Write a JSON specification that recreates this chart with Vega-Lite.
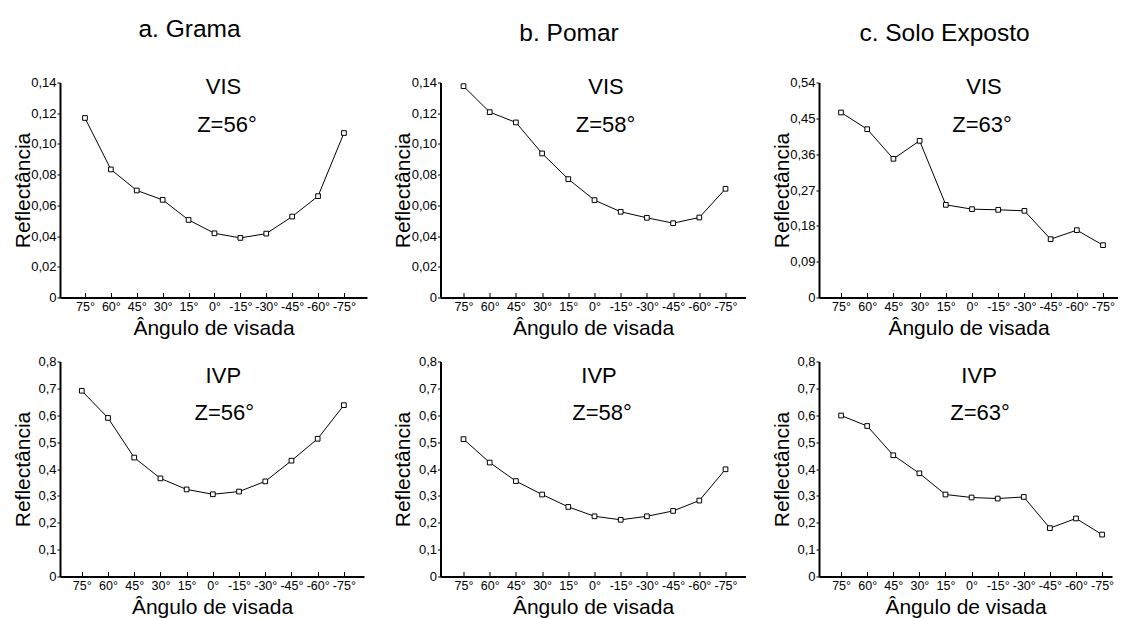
{
  "$schema": "https://vega.github.io/schema/vega-lite/v6.json",
  "background": "white",
  "padding": {"left": 12, "top": 16.5, "right": 0, "bottom": 0},
  "config": {
    "view": {"stroke": null},
    "font": "Liberation Sans",
    "axis": {"grid": false, "domainColor": "black", "domainWidth": 2, "tickColor": "black", "tickWidth": 1, "labelColor": "black", "titleColor": "black", "labelFont": "Liberation Sans", "titleFont": "Liberation Sans", "titleFontWeight": "normal"},
    "axisX": {"tickSize": -5, "labelFontSize": 12.5, "labelAngle": 0, "labelPadding": 8, "titleFontSize": 21, "titlePadding": 4},
    "axisY": {"tickSize": 3, "labelFontSize": 13, "labelPadding": 1, "titleFontSize": 21, "titlePadding": -3, "minExtent": 30},
    "title": {"font": "Liberation Sans", "fontWeight": "normal", "fontSize": 24.5, "color": "black"},
    "concat": {"spacing": 25.5}
  },
  "data": {"values": [
    {"cover": "Grama", "band": "VIS", "angle": "75°", "refl": 0.1169},
    {"cover": "Grama", "band": "VIS", "angle": "60°", "refl": 0.0834},
    {"cover": "Grama", "band": "VIS", "angle": "45°", "refl": 0.0697},
    {"cover": "Grama", "band": "VIS", "angle": "30°", "refl": 0.0636},
    {"cover": "Grama", "band": "VIS", "angle": "15°", "refl": 0.0505},
    {"cover": "Grama", "band": "VIS", "angle": "0°", "refl": 0.0418},
    {"cover": "Grama", "band": "VIS", "angle": "-15°", "refl": 0.0388},
    {"cover": "Grama", "band": "VIS", "angle": "-30°", "refl": 0.0416},
    {"cover": "Grama", "band": "VIS", "angle": "-45°", "refl": 0.0527},
    {"cover": "Grama", "band": "VIS", "angle": "-60°", "refl": 0.066},
    {"cover": "Grama", "band": "VIS", "angle": "-75°", "refl": 0.1071},
    {"cover": "Pomar", "band": "VIS", "angle": "75°", "refl": 0.1376},
    {"cover": "Pomar", "band": "VIS", "angle": "60°", "refl": 0.1207},
    {"cover": "Pomar", "band": "VIS", "angle": "45°", "refl": 0.114},
    {"cover": "Pomar", "band": "VIS", "angle": "30°", "refl": 0.0938},
    {"cover": "Pomar", "band": "VIS", "angle": "15°", "refl": 0.0771},
    {"cover": "Pomar", "band": "VIS", "angle": "0°", "refl": 0.0634},
    {"cover": "Pomar", "band": "VIS", "angle": "-15°", "refl": 0.0558},
    {"cover": "Pomar", "band": "VIS", "angle": "-30°", "refl": 0.0519},
    {"cover": "Pomar", "band": "VIS", "angle": "-45°", "refl": 0.0484},
    {"cover": "Pomar", "band": "VIS", "angle": "-60°", "refl": 0.0521},
    {"cover": "Pomar", "band": "VIS", "angle": "-75°", "refl": 0.0708},
    {"cover": "Solo", "band": "VIS", "angle": "75°", "refl": 0.4647},
    {"cover": "Solo", "band": "VIS", "angle": "60°", "refl": 0.4228},
    {"cover": "Solo", "band": "VIS", "angle": "45°", "refl": 0.3483},
    {"cover": "Solo", "band": "VIS", "angle": "30°", "refl": 0.3935},
    {"cover": "Solo", "band": "VIS", "angle": "15°", "refl": 0.2327},
    {"cover": "Solo", "band": "VIS", "angle": "0°", "refl": 0.2219},
    {"cover": "Solo", "band": "VIS", "angle": "-15°", "refl": 0.2202},
    {"cover": "Solo", "band": "VIS", "angle": "-30°", "refl": 0.2177},
    {"cover": "Solo", "band": "VIS", "angle": "-45°", "refl": 0.1465},
    {"cover": "Solo", "band": "VIS", "angle": "-60°", "refl": 0.1691},
    {"cover": "Solo", "band": "VIS", "angle": "-75°", "refl": 0.1314},
    {"cover": "Grama", "band": "IVP", "angle": "75°", "refl": 0.691},
    {"cover": "Grama", "band": "IVP", "angle": "60°", "refl": 0.59},
    {"cover": "Grama", "band": "IVP", "angle": "45°", "refl": 0.4425},
    {"cover": "Grama", "band": "IVP", "angle": "30°", "refl": 0.365},
    {"cover": "Grama", "band": "IVP", "angle": "15°", "refl": 0.324},
    {"cover": "Grama", "band": "IVP", "angle": "0°", "refl": 0.306},
    {"cover": "Grama", "band": "IVP", "angle": "-15°", "refl": 0.316},
    {"cover": "Grama", "band": "IVP", "angle": "-30°", "refl": 0.354},
    {"cover": "Grama", "band": "IVP", "angle": "-45°", "refl": 0.431},
    {"cover": "Grama", "band": "IVP", "angle": "-60°", "refl": 0.5125},
    {"cover": "Grama", "band": "IVP", "angle": "-75°", "refl": 0.6375},
    {"cover": "Pomar", "band": "IVP", "angle": "75°", "refl": 0.511},
    {"cover": "Pomar", "band": "IVP", "angle": "60°", "refl": 0.424},
    {"cover": "Pomar", "band": "IVP", "angle": "45°", "refl": 0.355},
    {"cover": "Pomar", "band": "IVP", "angle": "30°", "refl": 0.305},
    {"cover": "Pomar", "band": "IVP", "angle": "15°", "refl": 0.259},
    {"cover": "Pomar", "band": "IVP", "angle": "0°", "refl": 0.224},
    {"cover": "Pomar", "band": "IVP", "angle": "-15°", "refl": 0.211},
    {"cover": "Pomar", "band": "IVP", "angle": "-30°", "refl": 0.224},
    {"cover": "Pomar", "band": "IVP", "angle": "-45°", "refl": 0.244},
    {"cover": "Pomar", "band": "IVP", "angle": "-60°", "refl": 0.2825},
    {"cover": "Pomar", "band": "IVP", "angle": "-75°", "refl": 0.399},
    {"cover": "Solo", "band": "IVP", "angle": "75°", "refl": 0.599},
    {"cover": "Solo", "band": "IVP", "angle": "60°", "refl": 0.56},
    {"cover": "Solo", "band": "IVP", "angle": "45°", "refl": 0.451},
    {"cover": "Solo", "band": "IVP", "angle": "30°", "refl": 0.384},
    {"cover": "Solo", "band": "IVP", "angle": "15°", "refl": 0.305},
    {"cover": "Solo", "band": "IVP", "angle": "0°", "refl": 0.294},
    {"cover": "Solo", "band": "IVP", "angle": "-15°", "refl": 0.29},
    {"cover": "Solo", "band": "IVP", "angle": "-30°", "refl": 0.296},
    {"cover": "Solo", "band": "IVP", "angle": "-45°", "refl": 0.18},
    {"cover": "Solo", "band": "IVP", "angle": "-60°", "refl": 0.216},
    {"cover": "Solo", "band": "IVP", "angle": "-75°", "refl": 0.156}
  ]},
  "hconcat": [
    {
      "title": {"text": "a. Grama", "anchor": "middle", "offset": 34},
      "spacing": 17,
      "vconcat": [
        {
          "width": 307, "height": 215,
          "transform": [{"filter": "datum.cover == 'Grama' && datum.band == 'VIS'"}],
          "encoding": {
            "x": {"field": "angle", "type": "ordinal", "sort": ["75°","60°","45°","30°","15°","0°","-15°","-30°","-45°","-60°","-75°"], "scale": {"type": "point", "padding": 0.927, "align": 0.52}, "title": "Ângulo de visada"},
            "y": {"field": "refl", "type": "quantitative", "scale": {"domain": [0, 0.14], "nice": false}, "axis": {"values": [0, 0.02, 0.04, 0.06, 0.08, 0.1, 0.12, 0.14], "labelExpr": "datum.value == 0 ? '0' : replace(format(datum.value, '.2f'), '.', ',')"}, "title": "Reflectância"}
          },
          "layer": [
            {"mark": {"type": "line", "color": "black", "strokeWidth": 1}},
            {"mark": {"type": "point", "shape": "square", "filled": true, "fill": "white", "stroke": "black", "strokeWidth": 1, "size": 22, "opacity": 1}},
            {"transform": [{"filter": "datum.angle == '0°'"}], "mark": {"type": "text", "fontSize": 22, "baseline": "alphabetic", "dx": 9, "color": "black"}, "encoding": {"x": {"datum": "0°"}, "y": {"datum": 0.1322}, "text": {"value": "VIS"}}},
            {"transform": [{"filter": "datum.angle == '0°'"}], "mark": {"type": "text", "fontSize": 22, "baseline": "alphabetic", "dx": 12.5, "color": "black"}, "encoding": {"x": {"datum": "0°"}, "y": {"datum": 0.108}, "text": {"value": "Z=56°"}}}
          ]
        },
        {
          "width": 304, "height": 215,
          "transform": [{"filter": "datum.cover == 'Grama' && datum.band == 'IVP'"}],
          "encoding": {
            "x": {"field": "angle", "type": "ordinal", "sort": ["75°","60°","45°","30°","15°","0°","-15°","-30°","-45°","-60°","-75°"], "scale": {"type": "point", "padding": 0.8, "align": 0.52}, "title": "Ângulo de visada"},
            "y": {"field": "refl", "type": "quantitative", "scale": {"domain": [0, 0.8], "nice": false}, "axis": {"values": [0, 0.1, 0.2, 0.3, 0.4, 0.5, 0.6, 0.7, 0.8], "labelExpr": "datum.value == 0 ? '0' : replace(format(datum.value, '.1f'), '.', ',')"}, "title": "Reflectância"}
          },
          "layer": [
            {"mark": {"type": "line", "color": "black", "strokeWidth": 1}},
            {"mark": {"type": "point", "shape": "square", "filled": true, "fill": "white", "stroke": "black", "strokeWidth": 1, "size": 22, "opacity": 1}},
            {"transform": [{"filter": "datum.angle == '0°'"}], "mark": {"type": "text", "fontSize": 22, "baseline": "alphabetic", "dx": 10.5, "color": "black"}, "encoding": {"x": {"datum": "0°"}, "y": {"datum": 0.7214}, "text": {"value": "IVP"}}},
            {"transform": [{"filter": "datum.angle == '0°'"}], "mark": {"type": "text", "fontSize": 22, "baseline": "alphabetic", "dx": 11.5, "color": "black"}, "encoding": {"x": {"datum": "0°"}, "y": {"datum": 0.584}, "text": {"value": "Z=56°"}}}
          ]
        }
      ]
    },
    {
      "title": {"text": "b. Pomar", "anchor": "middle", "offset": 29.5},
      "spacing": 17,
      "vconcat": [
        {
          "width": 305, "height": 215,
          "transform": [{"filter": "datum.cover == 'Pomar' && datum.band == 'VIS'"}],
          "encoding": {
            "x": {"field": "angle", "type": "ordinal", "sort": ["75°","60°","45°","30°","15°","0°","-15°","-30°","-45°","-60°","-75°"], "scale": {"type": "point", "padding": 0.82, "align": 0.535}, "title": "Ângulo de visada"},
            "y": {"field": "refl", "type": "quantitative", "scale": {"domain": [0, 0.14], "nice": false}, "axis": {"values": [0, 0.02, 0.04, 0.06, 0.08, 0.1, 0.12, 0.14], "labelExpr": "datum.value == 0 ? '0' : replace(format(datum.value, '.2f'), '.', ',')"}, "title": "Reflectância"}
          },
          "layer": [
            {"mark": {"type": "line", "color": "black", "strokeWidth": 1}},
            {"mark": {"type": "point", "shape": "square", "filled": true, "fill": "white", "stroke": "black", "strokeWidth": 1, "size": 22, "opacity": 1}},
            {"transform": [{"filter": "datum.angle == '0°'"}], "mark": {"type": "text", "fontSize": 22, "baseline": "alphabetic", "dx": 11.5, "color": "black"}, "encoding": {"x": {"datum": "0°"}, "y": {"datum": 0.1322}, "text": {"value": "VIS"}}},
            {"transform": [{"filter": "datum.angle == '0°'"}], "mark": {"type": "text", "fontSize": 22, "baseline": "alphabetic", "dx": 11, "color": "black"}, "encoding": {"x": {"datum": "0°"}, "y": {"datum": 0.108}, "text": {"value": "Z=58°"}}}
          ]
        },
        {
          "width": 305, "height": 215,
          "transform": [{"filter": "datum.cover == 'Pomar' && datum.band == 'IVP'"}],
          "encoding": {
            "x": {"field": "angle", "type": "ordinal", "sort": ["75°","60°","45°","30°","15°","0°","-15°","-30°","-45°","-60°","-75°"], "scale": {"type": "point", "padding": 0.82, "align": 0.535}, "title": "Ângulo de visada"},
            "y": {"field": "refl", "type": "quantitative", "scale": {"domain": [0, 0.8], "nice": false}, "axis": {"values": [0, 0.1, 0.2, 0.3, 0.4, 0.5, 0.6, 0.7, 0.8], "labelExpr": "datum.value == 0 ? '0' : replace(format(datum.value, '.1f'), '.', ',')"}, "title": "Reflectância"}
          },
          "layer": [
            {"mark": {"type": "line", "color": "black", "strokeWidth": 1}},
            {"mark": {"type": "point", "shape": "square", "filled": true, "fill": "white", "stroke": "black", "strokeWidth": 1, "size": 22, "opacity": 1}},
            {"transform": [{"filter": "datum.angle == '0°'"}], "mark": {"type": "text", "fontSize": 22, "baseline": "alphabetic", "dx": 4.5, "color": "black"}, "encoding": {"x": {"datum": "0°"}, "y": {"datum": 0.7214}, "text": {"value": "IVP"}}},
            {"transform": [{"filter": "datum.angle == '0°'"}], "mark": {"type": "text", "fontSize": 22, "baseline": "alphabetic", "dx": 7.5, "color": "black"}, "encoding": {"x": {"datum": "0°"}, "y": {"datum": 0.584}, "text": {"value": "Z=58°"}}}
          ]
        }
      ]
    },
    {
      "title": {"text": "c. Solo Exposto", "anchor": "middle", "offset": 29.5},
      "spacing": 17,
      "vconcat": [
        {
          "width": 299, "height": 215,
          "transform": [{"filter": "datum.cover == 'Solo' && datum.band == 'VIS'"}],
          "encoding": {
            "x": {"field": "angle", "type": "ordinal", "sort": ["75°","60°","45°","30°","15°","0°","-15°","-30°","-45°","-60°","-75°"], "scale": {"type": "point", "padding": 0.706, "align": 0.595}, "title": "Ângulo de visada"},
            "y": {"field": "refl", "type": "quantitative", "scale": {"domain": [0, 0.54], "nice": false}, "axis": {"values": [0, 0.09, 0.18, 0.27, 0.36, 0.45, 0.54], "labelExpr": "datum.value == 0 ? '0' : replace(format(datum.value, '.2f'), '.', ',')"}, "title": "Reflectância"}
          },
          "layer": [
            {"mark": {"type": "line", "color": "black", "strokeWidth": 1}},
            {"mark": {"type": "point", "shape": "square", "filled": true, "fill": "white", "stroke": "black", "strokeWidth": 1, "size": 22, "opacity": 1}},
            {"transform": [{"filter": "datum.angle == '0°'"}], "mark": {"type": "text", "fontSize": 22, "baseline": "alphabetic", "dx": 12, "color": "black"}, "encoding": {"x": {"datum": "0°"}, "y": {"datum": 0.51}, "text": {"value": "VIS"}}},
            {"transform": [{"filter": "datum.angle == '0°'"}], "mark": {"type": "text", "fontSize": 22, "baseline": "alphabetic", "dx": 10, "color": "black"}, "encoding": {"x": {"datum": "0°"}, "y": {"datum": 0.4166}, "text": {"value": "Z=63°"}}}
          ]
        },
        {
          "width": 293, "height": 215,
          "transform": [{"filter": "datum.cover == 'Solo' && datum.band == 'IVP'"}],
          "encoding": {
            "x": {"field": "angle", "type": "ordinal", "sort": ["75°","60°","45°","30°","15°","0°","-15°","-30°","-45°","-60°","-75°"], "scale": {"type": "point", "padding": 0.613, "align": 0.69}, "title": "Ângulo de visada"},
            "y": {"field": "refl", "type": "quantitative", "scale": {"domain": [0, 0.8], "nice": false}, "axis": {"values": [0, 0.1, 0.2, 0.3, 0.4, 0.5, 0.6, 0.7, 0.8], "labelExpr": "datum.value == 0 ? '0' : replace(format(datum.value, '.1f'), '.', ',')"}, "title": "Reflectância"}
          },
          "layer": [
            {"mark": {"type": "line", "color": "black", "strokeWidth": 1}},
            {"mark": {"type": "point", "shape": "square", "filled": true, "fill": "white", "stroke": "black", "strokeWidth": 1, "size": 22, "opacity": 1}},
            {"transform": [{"filter": "datum.angle == '0°'"}], "mark": {"type": "text", "fontSize": 22, "baseline": "alphabetic", "dx": 7.5, "color": "black"}, "encoding": {"x": {"datum": "0°"}, "y": {"datum": 0.7214}, "text": {"value": "IVP"}}},
            {"transform": [{"filter": "datum.angle == '0°'"}], "mark": {"type": "text", "fontSize": 22, "baseline": "alphabetic", "dx": 8.5, "color": "black"}, "encoding": {"x": {"datum": "0°"}, "y": {"datum": 0.584}, "text": {"value": "Z=63°"}}}
          ]
        }
      ]
    }
  ]
}
